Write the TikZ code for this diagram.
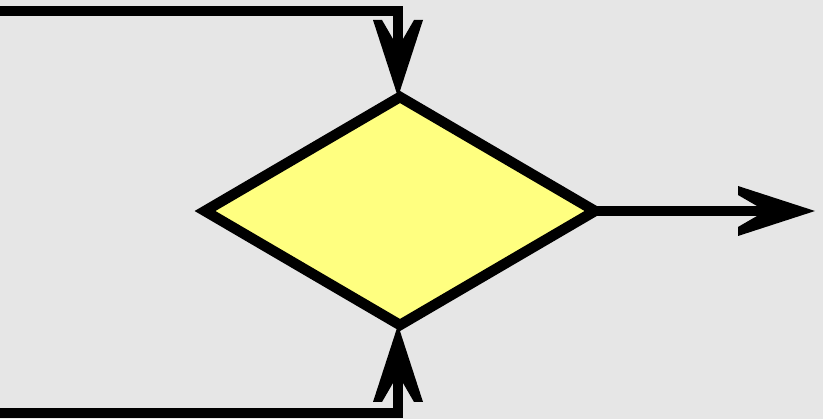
\documentclass[tikz,border=0pt]{standalone}
\usetikzlibrary{shapes.geometric}
\definecolor{marble}{HTML}{E6E6E6}
\definecolor{diayellow}{HTML}{FFFF80}
\tikzset{
  plain/.style={line width=10.5pt, draw=black, line join=miter},
  head/.pic={\fill[black] (0,0) -- (-77,25) -- (-77,16) -- (-58,5) -- (-58,-5) -- (-77,-16) -- (-77,-25) -- cycle;},
}
\begin{document}
\begin{tikzpicture}[x=1pt,y=-1pt]
\fill[marble] (0,0) rectangle (823,419);
\useasboundingbox (0,0) rectangle (823,419);
% decision diamond
\draw[plain, fill=diayellow] (400,97) -- (595,211) -- (400,325) -- (205,211) -- cycle;
\coordinate (right) at (595,211);
\coordinate (in1) at (0,11);
\coordinate (c1) at (398,11);
\coordinate (t1) at (398,97);
\coordinate (e1) at (398,77);
\coordinate (in2) at (0,413);
\coordinate (c2) at (398,413);
\coordinate (t2) at (398,325);
\coordinate (e2) at (398,345);
\coordinate (out) at (815,211);
\coordinate (e3) at (795,211);
\draw[plain] (in1) -- (c1) -- (e1);
\pic[rotate=-90] at (t1) {head};
\draw[plain] (in2) -- (c2) -- (e2);
\pic[rotate=90] at (t2) {head};
\draw[plain] (right) -- (e3);
\pic at (out) {head};
\end{tikzpicture}
\end{document}
